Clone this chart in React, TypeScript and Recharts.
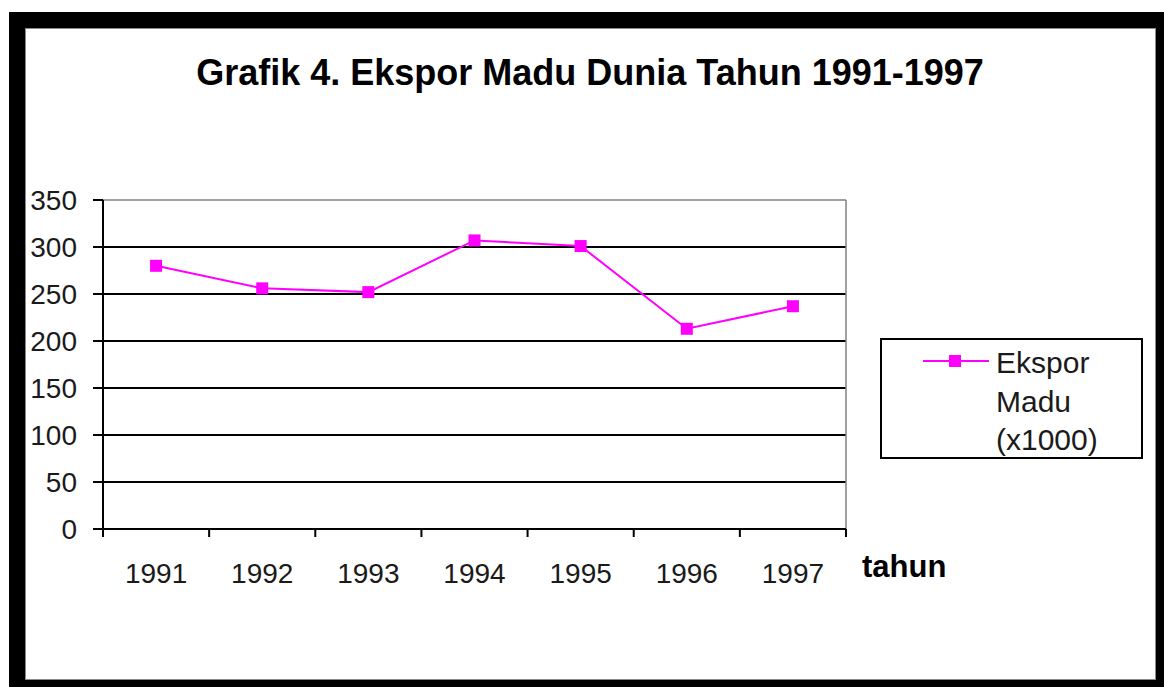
import React from 'react';
import { LineChart, Line, XAxis, YAxis, CartesianGrid, Legend } from 'recharts';

const years = ['1991', '1992', '1993', '1994', '1995', '1996', '1997'];
const eksporMadu = [280, 256, 252, 307, 301, 213, 237];
const yTicks = [0, 50, 100, 150, 200, 250, 300, 350];
const gridValues = [50, 100, 150, 200, 250, 300];
const borderValues = [350];
const seriesName = 'Ekspor Madu (x1000)';
const title = 'Grafik 4. Ekspor Madu Dunia Tahun 1991-1997';
const xAxisTitle = 'tahun';

const data = years.map((y, i) => ({ year: y, value: eksporMadu[i] }));

const FONT = '"Liberation Sans", Arial, Helvetica, sans-serif';
const MAGENTA = '#FF00FF';
const TEXT = '#1a1a1a';
const X_TICK_SIZE = 8;
const X_TICK_MARGIN = 26;

const SquareDot = (props: any) => {
  const { cx, cy } = props;
  if (cx == null || cy == null) return null;
  return <rect x={cx - 6} y={cy - 6} width={12} height={12} fill={MAGENTA} />;
};

const XTick = (props: any) => {
  const { x, y, payload } = props;
  const off = payload && typeof payload.offset === 'number' ? payload.offset : 0;
  const axisY = y - X_TICK_SIZE - X_TICK_MARGIN;
  const isLast = payload.value === years[years.length - 1];
  return (
    <g>
      <line x1={x - off} x2={x - off} y1={axisY} y2={axisY + X_TICK_SIZE} stroke="#000" strokeWidth={2} />
      {isLast && (
        <line x1={x + off} x2={x + off} y1={axisY} y2={axisY + X_TICK_SIZE} stroke="#000" strokeWidth={2} />
      )}
      <text x={x} y={y} dy="0.71em" textAnchor="middle" fontFamily={FONT} fontSize={28} fill={TEXT}>
        {payload.value}
      </text>
    </g>
  );
};

const LegendBox = (props: any) => {
  const { payload } = props;
  const entry = payload && payload[0];
  const name: string = entry ? String(entry.value) : seriesName;
  const color = entry ? entry.color : MAGENTA;
  const words = name.split(' ');
  return (
    <svg width={263} height={121} style={{ display: 'block' }}>
      <rect x={1} y={1} width={261} height={119} fill="#fff" stroke="#000" strokeWidth={2} />
      <line x1={43} x2={109} y1={23} y2={23} stroke={color} strokeWidth={2} />
      <rect x={69} y={17} width={12} height={12} fill={color} />
      {words.map((w, i) => (
        <text key={i} x={116} y={35 + i * 38.5} fontFamily={FONT} fontSize={30} fill={TEXT}>
          {w}
        </text>
      ))}
    </svg>
  );
};

export default function App() {
  return (
    <div style={{ position: 'absolute', left: 0, top: 0, width: 1164, height: 687, background: '#fff', overflow: 'hidden' }}>
      <div
        style={{
          position: 'absolute',
          left: 9,
          top: 12,
          width: 1155,
          height: 675,
          boxSizing: 'border-box',
          borderTop: '16px solid #000',
          borderLeft: '16px solid #000',
          borderRight: '8px solid #000',
          borderBottom: '7px solid #000',
          boxShadow: 'inset 0 0 0 1px #8a8a8a',
        }}
      />
      <div style={{ position: 'absolute', left: 0, top: 0 }}>
        <LineChart
          width={1164}
          height={687}
          data={data}
          margin={{ top: 200, right: 318, left: 43, bottom: 128 }}
        >
          <CartesianGrid vertical={false} horizontalValues={gridValues} stroke="#000" strokeWidth={2} />
          <CartesianGrid
            horizontalValues={borderValues}
            verticalCoordinatesGenerator={(p: any) => [p.offset.left + p.offset.width]}
            stroke="#808080"
            strokeWidth={1.5}
          />
          <XAxis
            dataKey="year"
            scale="band"
            height={30}
            axisLine={{ stroke: '#000', strokeWidth: 2 }}
            tickLine={false}
            tickSize={X_TICK_SIZE}
            tickMargin={X_TICK_MARGIN}
            tick={<XTick />}
            interval={0}
          />
          <YAxis
            width={60}
            domain={[0, 350]}
            ticks={yTicks}
            interval={0}
            axisLine={{ stroke: '#000', strokeWidth: 2 }}
            tickLine={{ stroke: '#000', strokeWidth: 2 }}
            tickSize={10}
            tickMargin={16}
            tick={{ fontFamily: FONT, fontSize: 28, fill: TEXT }}
          />
          <Legend
            layout="vertical"
            align="center"
            verticalAlign="middle"
            content={<LegendBox />}
            wrapperStyle={{ position: 'absolute', left: 880, top: 338, width: 263, height: 121 }}
          />
          <Line
            type="linear"
            dataKey="value"
            name={seriesName}
            stroke={MAGENTA}
            strokeWidth={2}
            dot={<SquareDot />}
            activeDot={false}
            isAnimationActive={false}
          />
        </LineChart>
      </div>
      <svg width={1164} height={687} style={{ position: 'absolute', left: 0, top: 0, pointerEvents: 'none' }}>
        <text x={590} y={85} textAnchor="middle" fontFamily={FONT} fontWeight="bold" fontSize={36} fill="#000">
          {title}
        </text>
        <text x={862} y={577} fontFamily={FONT} fontWeight="bold" fontSize={31} fill="#000">
          {xAxisTitle}
        </text>
      </svg>
    </div>
  );
}
